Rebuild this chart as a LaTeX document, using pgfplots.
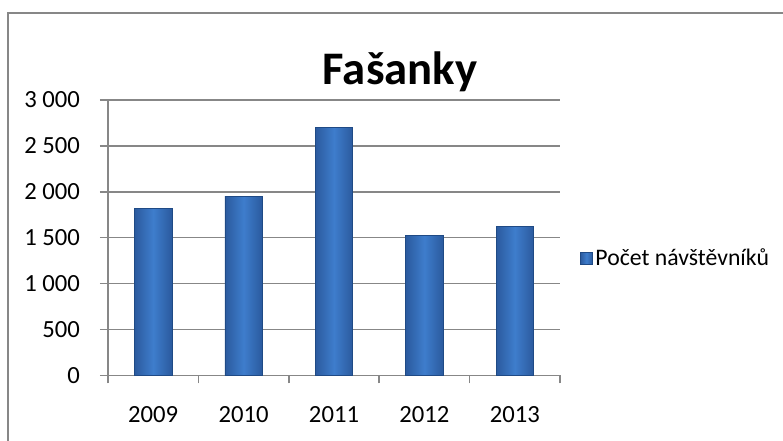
\documentclass[border=0pt]{standalone}
\usepackage{pgfplots}
\pgfplotsset{compat=1.18}
\usepackage{fontspec}
\setmainfont{Carlito}

\definecolor{barmid}{HTML}{3E7DCC}
\definecolor{baredge}{HTML}{2B5A9E}
\definecolor{barline}{HTML}{1F4A85}
\definecolor{gridgray}{HTML}{878787}

\begin{document}
\begin{tikzpicture}[x=1pt,y=1pt]
\useasboundingbox (0,0) rectangle (587.25,330.75);
% chart frame (only top and left edges are visible)
\draw[gridgray, line width=1.5pt] (6,-5) -- (6,321) -- (595,321);
\node[anchor=base, font=\fontsize{35}{40}\selectfont\bfseries] at (300,267) {Fašanky};

\begin{axis}[
    at={(81pt,49.2pt)}, anchor=south west,
    scale only axis,
    width=339pt, height=206.5pt,
    xmin=-0.5, xmax=4.5,
    ymin=0, ymax=3000,
    axis lines*=left,
    axis line style={gridgray, line width=1.1pt},
    ymajorgrids,
    grid style={gridgray, line width=1.1pt},
    xtick={0,1,2,3,4},
    xticklabels={2009,2010,2011,2012,2013},
    minor xtick={-0.5,0.5,1.5,2.5,3.5,4.5},
    ytick={0,500,1000,1500,2000,2500,3000},
    yticklabels={0,500,1 000,1 500,2 000,2 500,3 000},
    tick align=outside,
    major x tick style={draw=none},
    minor tick length=6pt,
    major tick length=6pt,
    tick style={gridgray, line width=1.1pt},
    ticklabel style={font=\fontsize{18.5}{22}\selectfont, text=black},
    yticklabel style={xshift=-11.5pt},
    xticklabel style={yshift=-13.5pt},
    legend style={at={(1.044,0.426)}, anchor=west, draw=none, fill=none,
        font=\fontsize{17.8}{22}\selectfont, inner sep=0pt},
    legend image code/.code={
        \draw[barline, left color=baredge, right color=baredge, middle color=barmid]
            (0pt,-4.5pt) rectangle (9pt,4.5pt);},
    every axis plot/.append style={ybar, bar width=28pt, bar shift=0pt,
        draw=barline, line width=0.5pt, mark=none,
        left color=baredge, right color=baredge, middle color=barmid},
]
% one plot per bar so that every bar gets its own shading
\addplot[] coordinates {(0,1820)};
\addlegendentry{Počet návštěvníků}
\addplot[forget plot] coordinates {(1,1950)};
\addplot[forget plot] coordinates {(2,2705)};
\addplot[forget plot] coordinates {(3,1525)};
\addplot[forget plot] coordinates {(4,1625)};
\end{axis}
\end{tikzpicture}
\end{document}
